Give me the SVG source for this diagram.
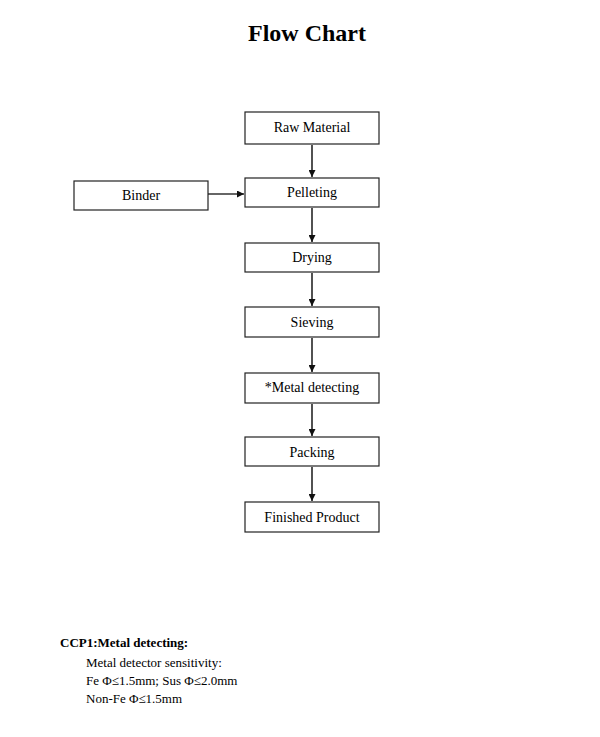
<svg xmlns="http://www.w3.org/2000/svg" width="600" height="737" viewBox="0 0 600 737">
<defs>
<style>
.box{fill:#fff;stroke:#222;stroke-width:1.2}
.lbl{font-family:"Liberation Serif","Times New Roman",serif;font-size:14px;text-anchor:middle;fill:#000}
.edge{stroke:#333;stroke-width:1.7;fill:none;marker-end:url(#ah)}
.note{font-family:"Liberation Serif","Times New Roman",serif;font-size:13px;fill:#000}
</style>
<marker id="ah" viewBox="0 0 10 10" refX="10" refY="5" markerWidth="7" markerHeight="7" markerUnits="userSpaceOnUse" orient="auto">
<path d="M0,0 L10,5 L0,10 z" fill="#111"/>
</marker>
</defs>
<rect width="600" height="737" fill="#fff"/>
<text x="307" y="41" font-family="'Liberation Serif','Times New Roman',serif" font-size="24" font-weight="bold" text-anchor="middle">Flow Chart</text>

<g id="connectors">
<line class="edge" x1="312" y1="145" x2="312" y2="177"/>
<line class="edge" x1="208" y1="194" x2="244" y2="194"/>
<line class="edge" x1="312" y1="208" x2="312" y2="242"/>
<line class="edge" x1="312" y1="273" x2="312" y2="306"/>
<line class="edge" x1="312" y1="338" x2="312" y2="372"/>
<line class="edge" x1="312" y1="404" x2="312" y2="436"/>
<line class="edge" x1="312" y1="467" x2="312" y2="501"/>
</g>

<g id="raw"><rect class="box" x="245" y="112" width="134" height="32"/><text class="lbl" x="312" y="132">Raw Material</text></g>
<g id="binder"><rect class="box" x="74" y="181" width="134" height="29"/><text class="lbl" x="141" y="200">Binder</text></g>
<g id="pelleting"><rect class="box" x="245" y="178" width="134" height="29"/><text class="lbl" x="312" y="197">Pelleting</text></g>
<g id="drying"><rect class="box" x="245" y="243" width="134" height="29"/><text class="lbl" x="312" y="262">Drying</text></g>
<g id="sieving"><rect class="box" x="245" y="307" width="134" height="30"/><text class="lbl" x="312" y="327">Sieving</text></g>
<g id="metal"><rect class="box" x="245" y="373" width="134" height="30"/><text class="lbl" x="312" y="392">*Metal detecting</text></g>
<g id="packing"><rect class="box" x="245" y="437" width="134" height="29"/><text class="lbl" x="312" y="457">Packing</text></g>
<g id="finished"><rect class="box" x="245" y="502" width="134" height="30"/><text class="lbl" x="312" y="522">Finished Product</text></g>

<g id="notes">
<text class="note" x="60" y="647" font-weight="bold">CCP1:Metal detecting:</text>
<text class="note" x="86" y="667">Metal detector sensitivity:</text>
<text class="note" x="86" y="685">Fe Φ≤1.5mm; Sus Φ≤2.0mm</text>
<text class="note" x="86" y="703">Non-Fe Φ≤1.5mm</text>
</g>
</svg>
